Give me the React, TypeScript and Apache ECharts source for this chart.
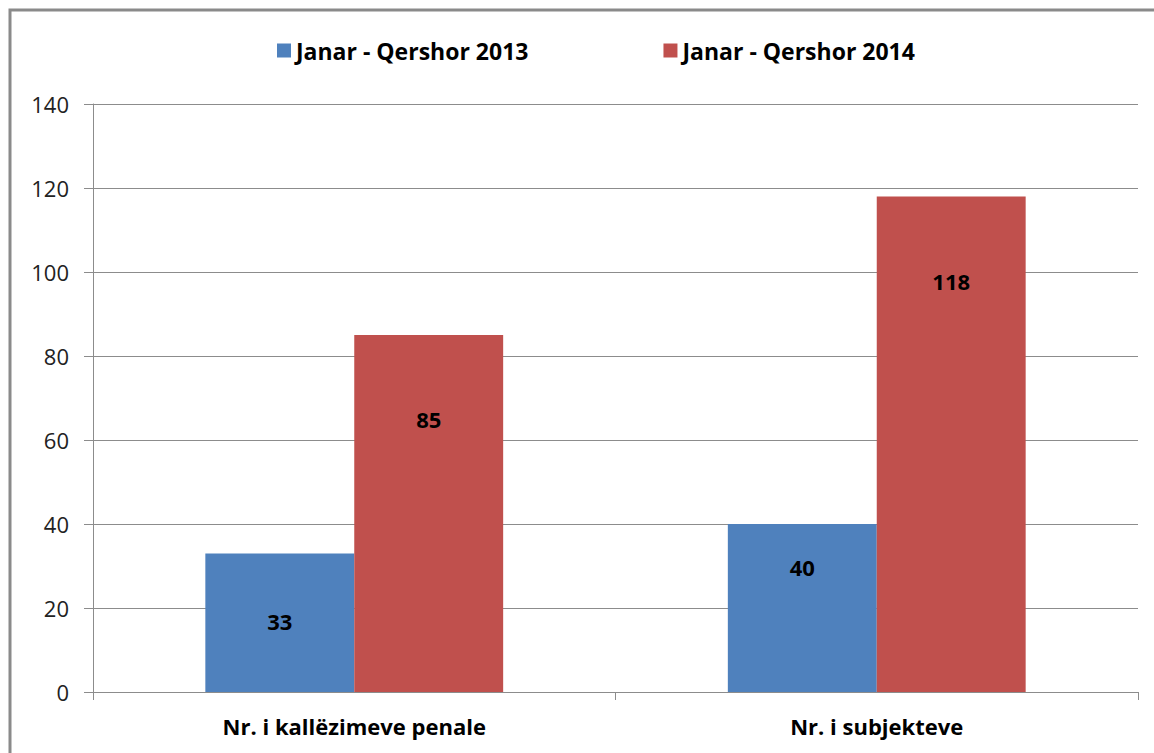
import React, { useEffect, useRef } from "react";
import * as echarts from "echarts";

const categories = ["Nr. i kallëzimeve penale", "Nr. i subjekteve"];
const seriesNames = ["Janar - Qershor 2013", "Janar - Qershor 2014"];
const values2013 = [33, 40];
const values2014 = [85, 118];
const yTicks = { min: 0, max: 140, interval: 20 };

// label vertical offsets (px below bar top) — styling only
const labelOffsets2013 = [68, 43];
const labelOffsets2014 = [84, 85];

const FONT = "'Open Sans', sans-serif";

const labelStyle = { show: true, fontSize: 22, fontWeight: "bold", color: "#000", fontFamily: FONT, align: "center", verticalAlign: "middle" };

export default function App() {
  const ref = useRef<HTMLDivElement>(null);
  useEffect(() => {
    if (!ref.current) return;
    const chart = echarts.init(ref.current, undefined, { renderer: "svg" });
    const mk = (vals: number[], offs: number[]) =>
      vals.map((v, i) => ({ value: v, label: { ...labelStyle, position: ["50%", offs[i]] } }));
    chart.setOption({
      animation: false,
      backgroundColor: "#ffffff",
      textStyle: { fontFamily: FONT },
      graphic: [
        {
          type: "rect",
          shape: { x: 10, y: 10, width: 1300, height: 900 },
          style: { fill: "none", stroke: "#8a8a8a", lineWidth: 3 },
          silent: true,
        },
      ],
      legend: {
        top: 34,
        left: 272,
        itemWidth: 14,
        itemHeight: 14,
        itemGap: 135,
        icon: "rect",
        textStyle: { fontSize: 23, fontWeight: "bold", color: "#000", fontFamily: FONT },
        data: seriesNames,
      },
      grid: { left: 93, right: 16, top: 104, bottom: 61, containLabel: false },
      xAxis: {
        type: "category",
        data: categories,
        axisLine: { lineStyle: { color: "#8c8c8c", width: 1 } },
        axisTick: { show: true, length: 8, lineStyle: { color: "#8c8c8c" } },
        axisLabel: { fontSize: 22, fontWeight: "bold", color: "#000", margin: 23, fontFamily: FONT },
      },
      yAxis: {
        type: "value",
        min: yTicks.min,
        max: yTicks.max,
        interval: yTicks.interval,
        axisLine: { show: true, lineStyle: { color: "#8c8c8c", width: 1 } },
        axisTick: { show: true, length: 9, lineStyle: { color: "#8c8c8c" } },
        axisLabel: { fontSize: 22, color: "#222", margin: 24, fontFamily: FONT },
        splitLine: { lineStyle: { color: "#8c8c8c", width: 1 } },
      },
      series: [
        {
          name: seriesNames[0],
          type: "bar",
          data: mk(values2013, labelOffsets2013),
          barGap: "0%",
          barCategoryGap: "43%",
          itemStyle: { color: "#4F81BD" },
          label: labelStyle,
        },
        {
          name: seriesNames[1],
          type: "bar",
          data: mk(values2014, labelOffsets2014),
          barGap: "0%",
          barCategoryGap: "43%",
          itemStyle: { color: "#C0504D" },
          label: labelStyle,
        },
      ],
    });
    return () => chart.dispose();
  }, []);
  return (
    <div style={{ position: "fixed", left: 0, top: 0, width: 1154, height: 753, background: "#fff" }}>
      <div ref={ref} style={{ width: 1154, height: 753 }} />
    </div>
  );
}
